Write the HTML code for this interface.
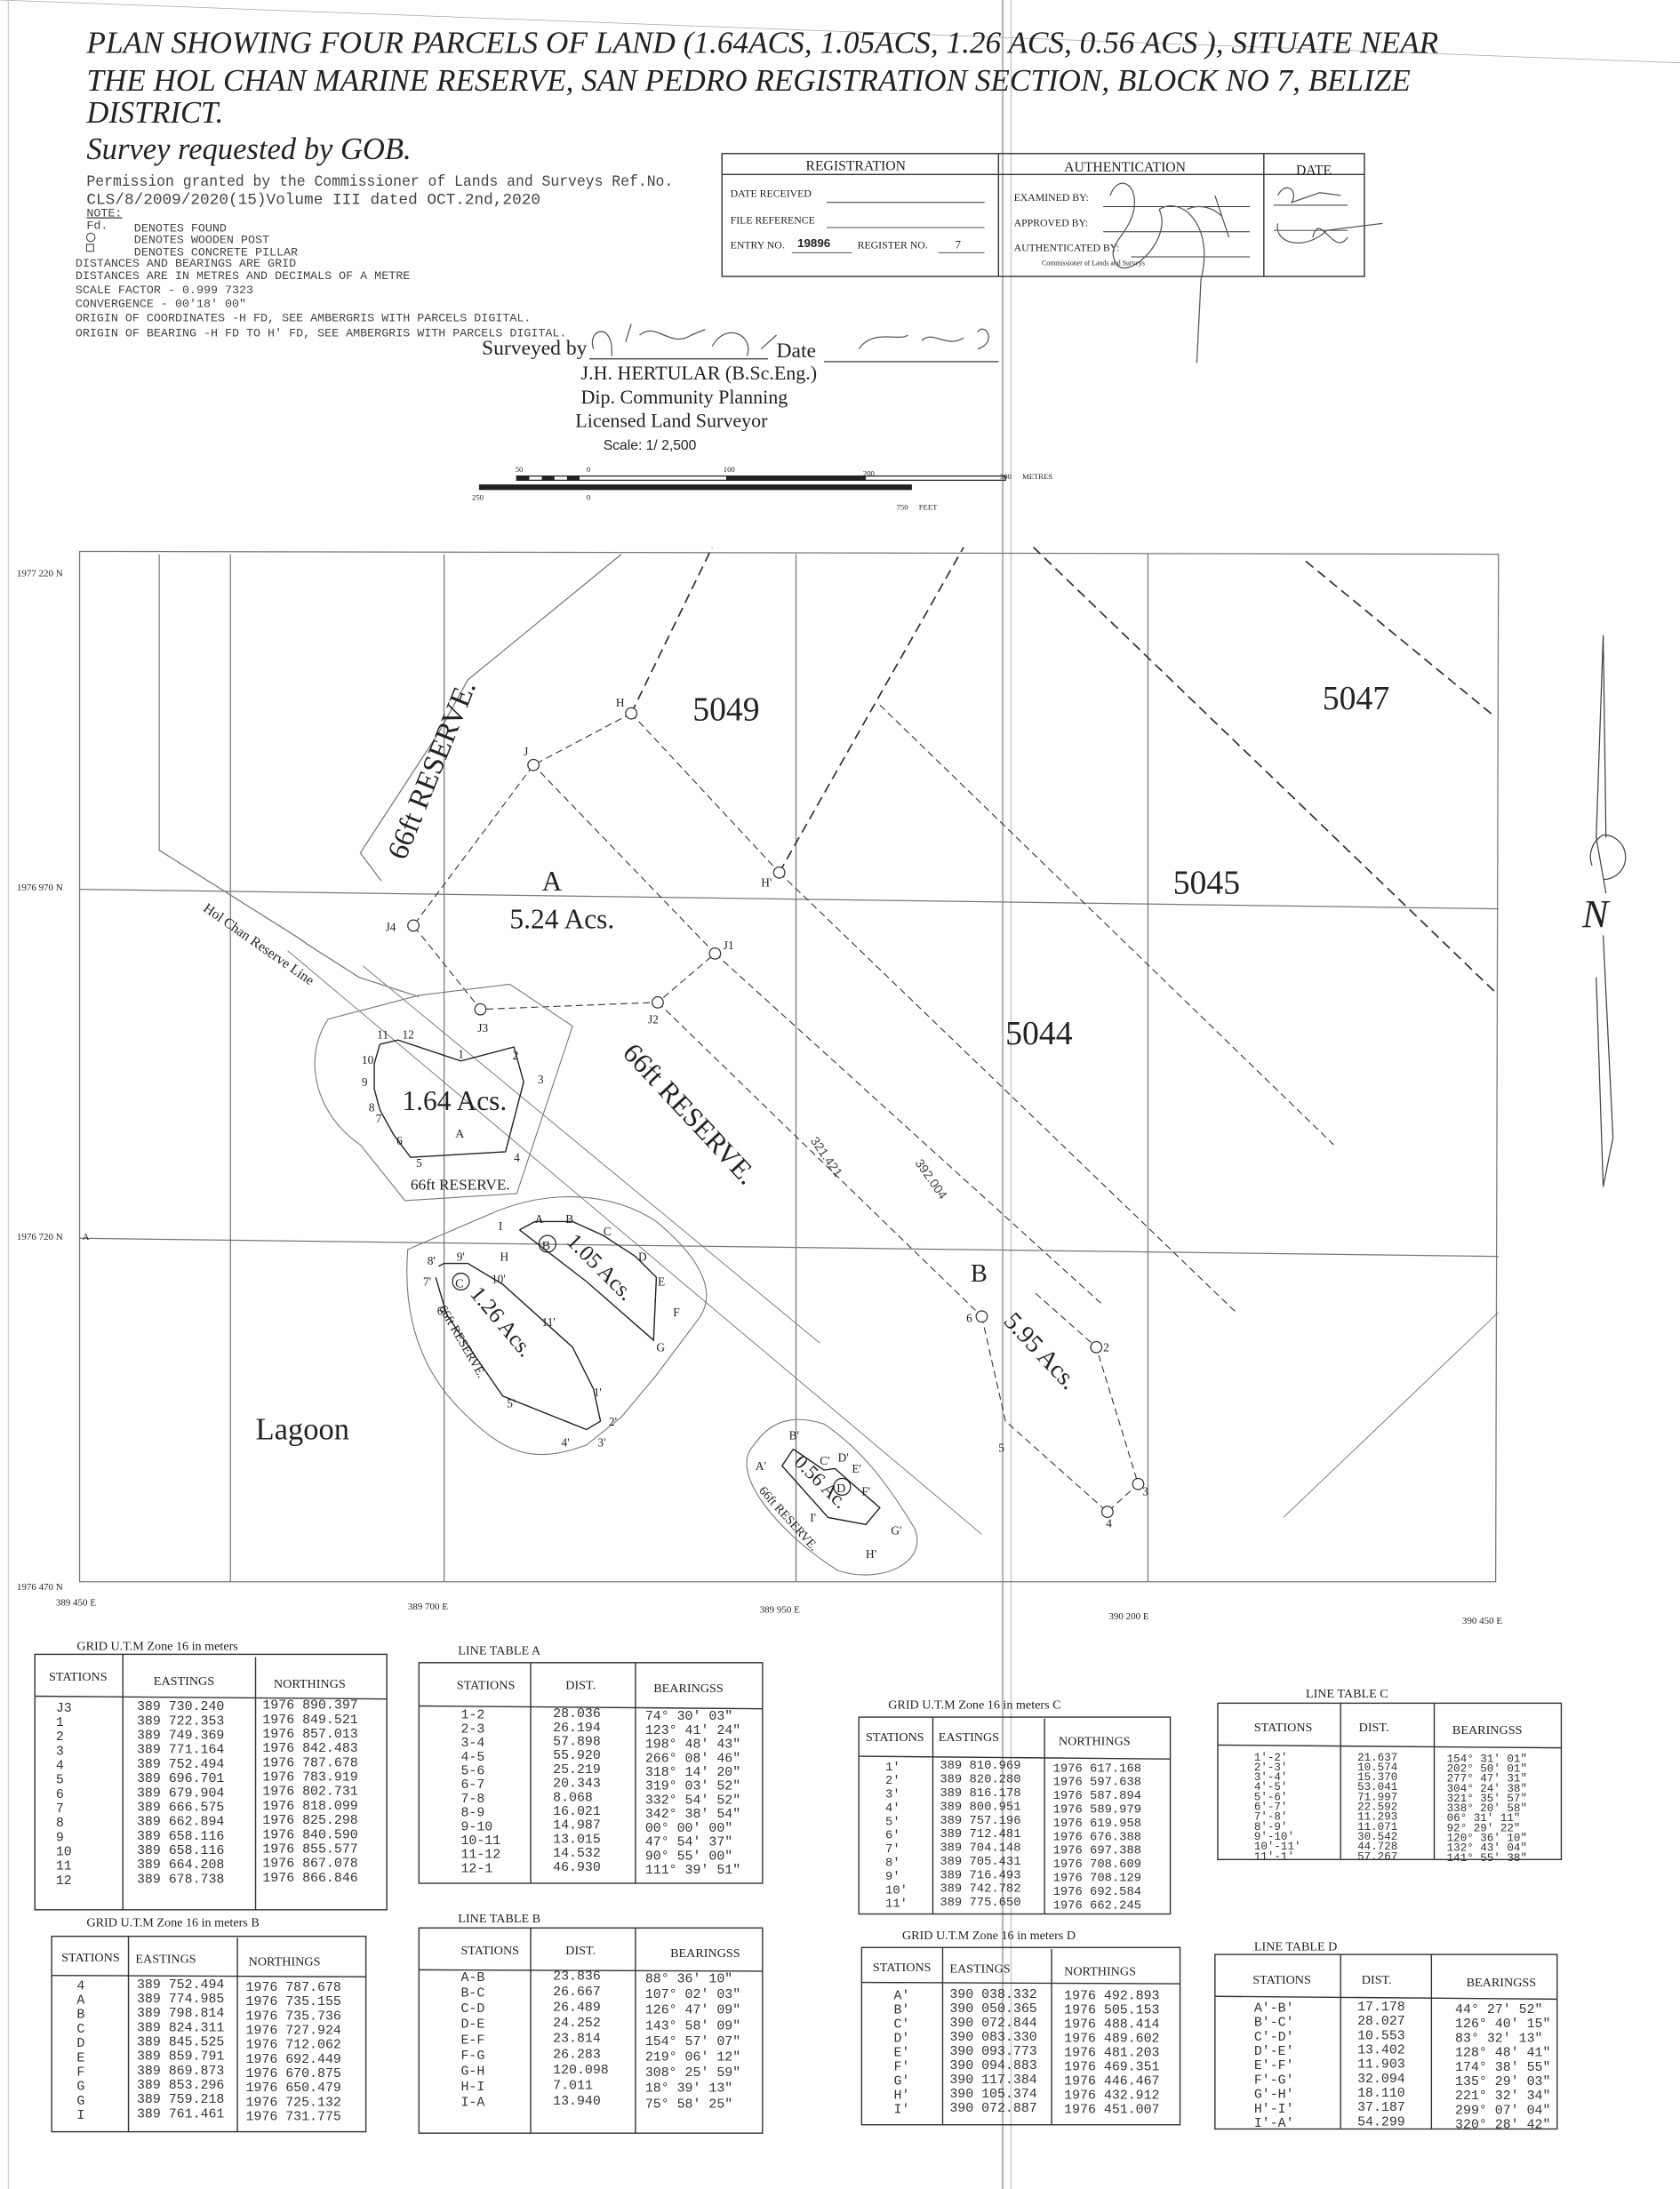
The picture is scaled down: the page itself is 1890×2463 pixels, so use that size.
<!DOCTYPE html>
<html><head><meta charset="utf-8"><style>
html,body{margin:0;padding:0;background:#fff}
svg{display:block}
.s{font-family:"Liberation Serif",serif}
.m{font-family:"Liberation Mono",monospace}
.n{font-family:"Liberation Sans",sans-serif}
</style></head><body>
<svg width="1890" height="2463" viewBox="0 0 1203 1568" preserveAspectRatio="none" xmlns="http://www.w3.org/2000/svg">
<rect width="1203" height="1568" fill="#fff"/>
<line x1="718" y1="0" x2="718" y2="1568" stroke="#bbb" stroke-width="1.5"/>
<line x1="724" y1="0" x2="724" y2="1568" stroke="#ccc" stroke-width="1"/>
<line x1="0" y1="0" x2="1203" y2="45" stroke="#aaa" stroke-width="0.5"/>
<line x1="6" y1="0" x2="6" y2="1568" stroke="#ccc" stroke-width="0.8"/>
<g class="s" font-style="italic" fill="#222" font-size="22">
<text x="62" y="38" textLength="968" lengthAdjust="spacingAndGlyphs">PLAN SHOWING FOUR PARCELS OF LAND (1.64ACS, 1.05ACS, 1.26 ACS, 0.56 ACS ), SITUATE NEAR</text>
<text x="62" y="65" textLength="948" lengthAdjust="spacingAndGlyphs">THE HOL CHAN MARINE RESERVE, SAN PEDRO REGISTRATION SECTION, BLOCK NO 7, BELIZE</text>
<text x="62" y="88">DISTRICT.</text>
<text x="62" y="114">Survey requested by GOB.</text>
</g>
<g class="m" fill="#444" font-size="11">
<text x="62" y="133" textLength="420" lengthAdjust="spacingAndGlyphs">Permission granted by the Commissioner of Lands and Surveys Ref.No.</text>
<text x="62" y="146" textLength="325" lengthAdjust="spacingAndGlyphs">CLS/8/2009/2020(15)Volume III  dated OCT.2nd,2020</text>
</g>
<g class="m" fill="#444" font-size="8.5">
<text x="62" y="155" text-decoration="underline">NOTE:</text>
<text x="62" y="164">Fd.</text><text x="96" y="166">DENOTES FOUND</text>
<circle cx="65" cy="170" r="3" fill="none" stroke="#444" stroke-width="0.7"/><text x="96" y="174">DENOTES WOODEN POST</text>
<rect x="62" y="175" width="5" height="5" fill="none" stroke="#444" stroke-width="0.7"/><text x="96" y="183">DENOTES CONCRETE PILLAR</text>
<text x="54" y="191">DISTANCES AND BEARINGS ARE GRID</text>
<text x="54" y="200">DISTANCES ARE IN METRES AND DECIMALS OF A METRE</text>
<text x="54" y="210">SCALE FACTOR - 0.999 7323</text>
<text x="54" y="220">CONVERGENCE - 00'18' 00"</text>
<text x="54" y="230">ORIGIN OF COORDINATES -H FD, SEE  AMBERGRIS WITH PARCELS DIGITAL.</text>
<text x="54" y="241">ORIGIN OF BEARING -H FD TO H' FD, SEE AMBERGRIS WITH PARCELS DIGITAL.</text>
</g>
<g stroke="#333" stroke-width="0.9" fill="none">
<rect x="517" y="110" width="460" height="88"/>
<line x1="517" y1="125" x2="977" y2="125"/>
<line x1="715" y1="110" x2="715" y2="198"/>
<line x1="905" y1="110" x2="905" y2="198"/>
<line x1="592" y1="145" x2="705" y2="145" stroke-width="0.6"/>
<line x1="592" y1="163" x2="705" y2="163" stroke-width="0.6"/>
<line x1="567" y1="181" x2="610" y2="181" stroke-width="0.6"/>
<line x1="672" y1="181" x2="705" y2="181" stroke-width="0.6"/>
<line x1="790" y1="148" x2="895" y2="148" stroke-width="0.6"/>
<line x1="790" y1="166" x2="895" y2="166" stroke-width="0.6"/>
<line x1="810" y1="184" x2="895" y2="184" stroke-width="0.6"/>
<line x1="912" y1="147" x2="965" y2="147" stroke-width="0.6"/>
<line x1="912" y1="165" x2="965" y2="165" stroke-width="0.6"/>
</g>
<g class="s" fill="#222">
<text x="577" y="122" font-size="10">REGISTRATION</text>
<text x="762" y="123" font-size="10">AUTHENTICATION</text>
<text x="928" y="125" font-size="10">DATE</text>
<text x="523" y="141" font-size="7.5">DATE RECEIVED</text>
<text x="523" y="160" font-size="7.5">FILE REFERENCE</text>
<text x="523" y="178" font-size="7.5">ENTRY NO.</text>
<text x="571" y="177" font-size="8.5" font-weight="bold" class="n">19896</text>
<text x="614" y="178" font-size="7.5">REGISTER NO.</text>
<text x="684" y="178" font-size="8">7</text>
<text x="726" y="144" font-size="7.5">EXAMINED BY:</text>
<text x="726" y="162" font-size="7.5">APPROVED BY:</text>
<text x="726" y="180" font-size="7.5">AUTHENTICATED BY:</text>
<text x="746" y="190" font-size="5">Commissioner of Lands and Surveys</text>
</g>
<g stroke="#555" stroke-width="0.8" fill="none">
<path d="M795 140 C800 125 815 130 812 150 C808 170 790 175 800 190 C810 200 840 170 830 150 M830 150 C845 140 870 160 860 200 L857 260 M870 140 L880 170 M850 150 C860 145 870 150 875 155"/>
<path d="M915 140 C920 130 930 135 925 145 L945 138 L960 140 M915 160 C912 175 935 180 950 165 L990 160 M940 170 C945 150 955 185 965 170"/>
<path d="M425 250 C420 235 440 230 438 255 M448 245 L452 232 M458 240 C470 230 480 250 495 240 L505 236 M510 248 C520 230 540 240 535 255 M545 250 L556 240"/>
<path d="M615 250 C625 235 645 245 650 240 M660 244 C668 236 678 250 690 242 M700 238 C705 230 715 245 700 250"/>
</g>
<g class="s" fill="#222">
<text x="345" y="254" font-size="15">Surveyed by</text>
<line x1="422" y1="257" x2="550" y2="257" stroke="#333" stroke-width="0.8"/>
<text x="556" y="256" font-size="15">Date</text>
<line x1="590" y1="259" x2="715" y2="259" stroke="#333" stroke-width="0.8"/>
<text x="416" y="272" font-size="14">J.H. HERTULAR (B.Sc.Eng.)</text>
<text x="416" y="289" font-size="14">Dip. Community Planning</text>
<text x="412" y="306" font-size="14">Licensed Land Surveyor</text>
<text x="432" y="322" font-size="10" class="n">Scale: 1/ 2,500</text>
</g>
<g>
<rect x="343" y="347" width="310" height="4" fill="#222"/>
<rect x="370" y="341" width="350" height="3" fill="none" stroke="#222" stroke-width="0.8"/>
<rect x="370" y="341" width="9" height="3" fill="#222"/><rect x="388" y="341" width="9" height="3" fill="#222"/><rect x="406" y="341" width="9" height="3" fill="#222"/>
<rect x="520" y="341" width="100" height="3" fill="#222"/>
<g class="s" font-size="5.5" fill="#222"><text x="369" y="338">50</text><text x="420" y="338">0</text><text x="518" y="338">100</text><text x="618" y="341">200</text><text x="716" y="343">300</text><text x="732" y="343">METRES</text><text x="338" y="358">250</text><text x="420" y="358">0</text><text x="642" y="365">750</text><text x="658" y="365">FEET</text></g>
</g>
<g stroke="#777" stroke-width="0.8" fill="none">
<path d="M57 395 L1073 397 L1071 1133 L57 1133 Z"/>
<line x1="165" y1="397" x2="165" y2="1133"/>
<line x1="318" y1="397" x2="318" y2="1133"/>
<line x1="570" y1="397" x2="570" y2="1133"/>
<line x1="822" y1="397" x2="822" y2="1133"/>
<line x1="57" y1="637" x2="1073" y2="651"/>
<line x1="57" y1="887" x2="1073" y2="900"/>
<path d="M445 397 L368 460 L335 487 L314 525 L258 611 L273 631"/>
<path d="M114 397 L114 609 L214 672 L221 677 L257 700 L300 714"/>
<line x1="206" y1="681" x2="703" y2="1099" stroke-width="0.6"/>
<line x1="260" y1="692" x2="587" y2="962" stroke-width="0.6"/>
<line x1="919" y1="1087" x2="1073" y2="940" stroke-width="0.6"/>
</g>
<g class="s" font-size="7" fill="#222">
<text x="12" y="413">1977 220 N</text><text x="12" y="638">1976 970 N</text><text x="12" y="888">1976 720 N</text><text x="59" y="888">A</text><text x="12" y="1139">1976 470 N</text>
<text x="40" y="1150">389 450 E</text><text x="292" y="1153">389 700 E</text><text x="544" y="1155">389 950 E</text><text x="794" y="1160">390 200 E</text><text x="1047" y="1163">390 450 E</text>
</g>
<g stroke="#333" fill="none">
<g stroke-width="1.1" stroke-dasharray="7,4">
<line x1="452" y1="511" x2="510" y2="392"/>
<line x1="558" y1="625" x2="690" y2="392"/>
<line x1="740" y1="392" x2="1070" y2="710"/>
<line x1="935" y1="402" x2="1070" y2="513"/>
</g>
<g stroke-width="0.7" stroke-dasharray="5,3">
<polyline points="452,511 382,548 296,663 344,723 471,718 512,683 382,548"/>
<line x1="452" y1="511" x2="558" y2="625"/>
<line x1="558" y1="625" x2="885" y2="940"/>
<line x1="512" y1="683" x2="790" y2="935"/>
<line x1="471" y1="718" x2="703" y2="943"/>
<line x1="630" y1="505" x2="955" y2="820"/>
<polyline points="703,943 720,1018 793,1083 815,1063 785,965 740,925"/>
</g>
</g>
<g fill="#fff" stroke="#333" stroke-width="0.8">
<circle cx="452" cy="511" r="4"/><circle cx="382" cy="548" r="4"/><circle cx="296" cy="663" r="4"/><circle cx="344" cy="723" r="4"/><circle cx="471" cy="718" r="4"/><circle cx="512" cy="683" r="4"/><circle cx="558" cy="625" r="4"/><circle cx="703" cy="943" r="4"/><circle cx="785" cy="965" r="4"/><circle cx="815" cy="1063" r="4"/><circle cx="793" cy="1083" r="4"/>
</g>
<g stroke="#777" stroke-width="0.7" fill="none">
<path d="M235 730 C215 760 228 800 258 820 L290 860 L370 855 L395 780 L410 735 L365 705 L300 713 Z"/>
<path d="M292 895 C290 920 290 970 330 1010 C360 1040 380 1050 420 1035 L445 1015 L470 985 L500 945 C515 925 500 900 470 875 C440 855 395 850 350 870 Z"/>
<path d="M540 1035 C520 1055 560 1100 600 1125 C630 1135 665 1120 655 1095 C640 1070 620 1040 590 1020 C565 1012 550 1020 540 1035 Z"/>
</g>
<g stroke="#222" stroke-width="0.9" fill="none">
<polyline points="272,748 285,745 330,760 368,750 375,775 362,825 294,829 282,813 272,795 268,780 268,762 272,748"/>
<polyline points="372,881 383,875 410,875 432,885 455,900 470,915 468,960 420,918 372,881"/>
<polyline points="314,907 318,905 335,905 360,920 410,965 425,995 430,1018 420,1024 360,1000 320,942 312,915"/>
<polyline points="568,1038 590,1053 598,1052 607,1060 630,1080 620,1092 593,1087 560,1050 568,1038"/>
</g>
<g class="s" fill="#222">
<text x="496" y="516" font-size="24">5049</text>
<text x="947" y="508" font-size="24">5047</text>
<text x="840" y="640" font-size="24">5045</text>
<text x="720" y="748" font-size="24">5044</text>
<text x="388" y="638" font-size="20">A</text>
<text x="365" y="665" font-size="20">5.24 Acs.</text>
<text x="695" y="918" font-size="18">B</text>
<text x="183" y="1031" font-size="22">Lagoon</text>
<text x="288" y="795" font-size="20">1.64 Acs.</text>
<text x="326" y="815" font-size="9">A</text>
<text x="294" y="852" font-size="11">66ft RESERVE.</text>
<text transform="translate(290 617) rotate(-68)" font-size="21">66ft RESERVE.</text>
<text transform="translate(445 755) rotate(47)" font-size="20">66ft RESERVE.</text>
<text transform="translate(145 652) rotate(35)" font-size="10">Hol Chan Reserve Line</text>
<text transform="translate(718 947) rotate(47)" font-size="18">5.95 Acs.</text>
<text transform="translate(405 890) rotate(45)" font-size="16">1.05 Acs.</text>
<text transform="translate(336 927) rotate(50)" font-size="16">1.26 Acs.</text>
<text transform="translate(568 1048) rotate(45)" font-size="14">0.56 Ac.</text>
<text transform="translate(314 937) rotate(60)" font-size="9">66ft RESERVE.</text>
<text transform="translate(543 1068) rotate(48)" font-size="9">66ft RESERVE.</text>
<text transform="translate(580 817) rotate(55)" font-size="9" class="n" fill="#444">321.421</text>
<text transform="translate(655 833) rotate(55)" font-size="9" class="n" fill="#444">392.004</text>
<text x="1133" y="664" font-size="28" font-style="italic">N</text>
<g font-size="8.5">
<text x="441" y="506">H</text><text x="375" y="541">J</text><text x="276" y="667">J4</text><text x="342" y="739">J3</text><text x="464" y="733">J2</text><text x="518" y="680">J1</text><text x="545" y="635">H'</text>
<text x="270" y="744">11</text><text x="288" y="744">12</text><text x="328" y="758">1</text><text x="367" y="759">2</text><text x="385" y="776">3</text><text x="368" y="832">4</text><text x="298" y="836">5</text><text x="284" y="820">6</text><text x="269" y="804">7</text><text x="264" y="796">8</text><text x="259" y="778">9</text><text x="259" y="762">10</text>
<text x="357" y="881">I</text><text x="383" y="876">A</text><text x="405" y="876">B</text><text x="432" y="885">C</text><text x="457" y="903">D</text><text x="471" y="921">E</text><text x="482" y="943">F</text><text x="470" y="968">G</text><text x="358" y="903">H</text>
<text x="306" y="906">8'</text><text x="327" y="903">9'</text><text x="352" y="919">10'</text><text x="388" y="950">11'</text><text x="303" y="921">7'</text><text x="313" y="942">6'</text><text x="363" y="1008">5'</text><text x="402" y="1036">4'</text><text x="428" y="1036">3'</text><text x="436" y="1021">2'</text><text x="425" y="1000">1'</text>
<text x="565" y="1031">B'</text><text x="541" y="1053">A'</text><text x="587" y="1049">C'</text><text x="600" y="1047">D'</text><text x="610" y="1055">E'</text><text x="617" y="1071">F'</text><text x="638" y="1099">G'</text><text x="620" y="1116">H'</text><text x="580" y="1090">I'</text>
<text x="692" y="947">6</text><text x="790" y="968">2</text><text x="818" y="1071">3</text><text x="792" y="1094">4</text><text x="715" y="1040">5</text>
</g>
</g>
<g fill="none" stroke="#222" stroke-width="0.8"><circle cx="392" cy="891" r="6"/><circle cx="330" cy="918" r="6"/><circle cx="603" cy="1065" r="6"/></g>
<g class="s" font-size="9" fill="#222"><text x="388" y="895">B</text><text x="326" y="922">C</text><text x="599" y="1069">D</text></g>
<g stroke="#444" stroke-width="0.8" fill="none">
<path d="M1148 455 L1143 600 L1150 640 M1148 455 L1150 600"/>
<path d="M1148 670 L1155 815 L1148 850 L1143 700"/>
<path d="M1148 598 A15 15 0 0 1 1148 630"/><path d="M1148 598 A18 18 0 0 0 1140 620"/>
</g>
<g stroke="#333" stroke-width="0.9" fill="none">
<rect x="25" y="1185" width="252" height="183"/><line x1="25" y1="1215" x2="277" y2="1217"/><line x1="88" y1="1185" x2="88" y2="1368"/><line x1="183" y1="1187" x2="183" y2="1368"/>
<rect x="300" y="1191" width="246" height="158"/><line x1="300" y1="1222" x2="546" y2="1224"/><line x1="380" y1="1191" x2="380" y2="1349"/><line x1="455" y1="1191" x2="455" y2="1349"/>
<rect x="37" y="1387" width="225" height="140"/><line x1="37" y1="1415" x2="262" y2="1416"/><line x1="92" y1="1387" x2="92" y2="1527"/><line x1="170" y1="1388" x2="170" y2="1527"/>
<rect x="300" y="1381" width="246" height="147"/><line x1="300" y1="1411" x2="546" y2="1412"/><line x1="380" y1="1381" x2="380" y2="1528"/><line x1="455" y1="1381" x2="455" y2="1528"/>
<rect x="615" y="1230" width="223" height="141"/><line x1="615" y1="1258" x2="838" y2="1260"/><line x1="668" y1="1230" x2="668" y2="1371"/><line x1="748" y1="1231" x2="748" y2="1371"/>
<rect x="872" y="1220" width="246" height="112"/><line x1="872" y1="1250" x2="1118" y2="1252"/><line x1="960" y1="1220" x2="960" y2="1332"/><line x1="1027" y1="1220" x2="1027" y2="1332"/>
<rect x="617" y="1395" width="228" height="127"/><line x1="617" y1="1420" x2="845" y2="1421"/><line x1="675" y1="1395" x2="675" y2="1522"/><line x1="753" y1="1396" x2="753" y2="1522"/>
<rect x="870" y="1400" width="245" height="125"/><line x1="870" y1="1430" x2="1115" y2="1432"/><line x1="960" y1="1400" x2="960" y2="1525"/><line x1="1025" y1="1400" x2="1025" y2="1525"/>
</g>
<g class="s" fill="#222" font-size="9">
<text x="55" y="1182">GRID U.T.M Zone 16  in  meters</text>
<text x="328" y="1185">LINE TABLE  A</text>
<text x="62" y="1380">GRID U.T.M Zone 16  in  meters  B</text>
<text x="328" y="1377">LINE TABLE  B</text>
<text x="636" y="1224">GRID U.T.M Zone 16  in  meters  C</text>
<text x="935" y="1216">LINE TABLE  C</text>
<text x="646" y="1389">GRID U.T.M Zone 16  in  meters  D</text>
<text x="898" y="1397">LINE TABLE  D</text>
<text x="35" y="1204">STATIONS</text><text x="110" y="1207">EASTINGS</text><text x="196" y="1209">NORTHINGS</text>
<text x="327" y="1210">STATIONS</text><text x="405" y="1210">DIST.</text><text x="468" y="1212">BEARINGSS</text>
<text x="44" y="1405">STATIONS</text><text x="97" y="1406">EASTINGS</text><text x="178" y="1408">NORTHINGS</text>
<text x="330" y="1400">STATIONS</text><text x="405" y="1400">DIST.</text><text x="480" y="1402">BEARINGSS</text>
<text x="620" y="1247">STATIONS</text><text x="672" y="1247">EASTINGS</text><text x="758" y="1250">NORTHINGS</text>
<text x="898" y="1240">STATIONS</text><text x="973" y="1240">DIST.</text><text x="1040" y="1242">BEARINGSS</text>
<text x="625" y="1412">STATIONS</text><text x="680" y="1413">EASTINGS</text><text x="762" y="1415">NORTHINGS</text>
<text x="897" y="1421">STATIONS</text><text x="975" y="1421">DIST.</text><text x="1050" y="1423">BEARINGSS</text>
</g>
<g class="m" fill="#333" font-size="9.5">
<text x="40" y="1226"><tspan x="40" dy="0">J3</tspan><tspan x="40" dy="10.3">1</tspan><tspan x="40" dy="10.3">2</tspan><tspan x="40" dy="10.3">3</tspan><tspan x="40" dy="10.3">4</tspan><tspan x="40" dy="10.3">5</tspan><tspan x="40" dy="10.3">6</tspan><tspan x="40" dy="10.3">7</tspan><tspan x="40" dy="10.3">8</tspan><tspan x="40" dy="10.3">9</tspan><tspan x="40" dy="10.3">10</tspan><tspan x="40" dy="10.3">11</tspan><tspan x="40" dy="10.3">12</tspan></text>
<text x="98" y="1225"><tspan x="98" dy="0">389 730.240</tspan><tspan x="98" dy="10.3">389 722.353</tspan><tspan x="98" dy="10.3">389 749.369</tspan><tspan x="98" dy="10.3">389 771.164</tspan><tspan x="98" dy="10.3">389 752.494</tspan><tspan x="98" dy="10.3">389 696.701</tspan><tspan x="98" dy="10.3">389 679.904</tspan><tspan x="98" dy="10.3">389 666.575</tspan><tspan x="98" dy="10.3">389 662.894</tspan><tspan x="98" dy="10.3">389 658.116</tspan><tspan x="98" dy="10.3">389 658.116</tspan><tspan x="98" dy="10.3">389 664.208</tspan><tspan x="98" dy="10.3">389 678.738</tspan></text>
<text x="188" y="1224"><tspan x="188" dy="0">1976 890.397</tspan><tspan x="188" dy="10.3">1976 849.521</tspan><tspan x="188" dy="10.3">1976 857.013</tspan><tspan x="188" dy="10.3">1976 842.483</tspan><tspan x="188" dy="10.3">1976 787.678</tspan><tspan x="188" dy="10.3">1976 783.919</tspan><tspan x="188" dy="10.3">1976 802.731</tspan><tspan x="188" dy="10.3">1976 818.099</tspan><tspan x="188" dy="10.3">1976 825.298</tspan><tspan x="188" dy="10.3">1976 840.590</tspan><tspan x="188" dy="10.3">1976 855.577</tspan><tspan x="188" dy="10.3">1976 867.078</tspan><tspan x="188" dy="10.3">1976 866.846</tspan></text>
<text x="330" y="1231"><tspan x="330" dy="0">1-2</tspan><tspan x="330" dy="10">2-3</tspan><tspan x="330" dy="10">3-4</tspan><tspan x="330" dy="10">4-5</tspan><tspan x="330" dy="10">5-6</tspan><tspan x="330" dy="10">6-7</tspan><tspan x="330" dy="10">7-8</tspan><tspan x="330" dy="10">8-9</tspan><tspan x="330" dy="10">9-10</tspan><tspan x="330" dy="10">10-11</tspan><tspan x="330" dy="10">11-12</tspan><tspan x="330" dy="10">12-1</tspan></text>
<text x="396" y="1230"><tspan x="396" dy="0">28.036</tspan><tspan x="396" dy="10">26.194</tspan><tspan x="396" dy="10">57.898</tspan><tspan x="396" dy="10">55.920</tspan><tspan x="396" dy="10">25.219</tspan><tspan x="396" dy="10">20.343</tspan><tspan x="396" dy="10">8.068</tspan><tspan x="396" dy="10">16.021</tspan><tspan x="396" dy="10">14.987</tspan><tspan x="396" dy="10">13.015</tspan><tspan x="396" dy="10">14.532</tspan><tspan x="396" dy="10">46.930</tspan></text>
<text x="462" y="1232"><tspan x="462" dy="0">74° 30′ 03″</tspan><tspan x="462" dy="10">123° 41′ 24″</tspan><tspan x="462" dy="10">198° 48′ 43″</tspan><tspan x="462" dy="10">266° 08′ 46″</tspan><tspan x="462" dy="10">318° 14′ 20″</tspan><tspan x="462" dy="10">319° 03′ 52″</tspan><tspan x="462" dy="10">332° 54′ 52″</tspan><tspan x="462" dy="10">342° 38′ 54″</tspan><tspan x="462" dy="10">00° 00′ 00″</tspan><tspan x="462" dy="10">47° 54′ 37″</tspan><tspan x="462" dy="10">90° 55′ 00″</tspan><tspan x="462" dy="10">111° 39′ 51″</tspan></text>
<text x="55" y="1425"><tspan x="55" dy="0">4</tspan><tspan x="55" dy="10.3">A</tspan><tspan x="55" dy="10.3">B</tspan><tspan x="55" dy="10.3">C</tspan><tspan x="55" dy="10.3">D</tspan><tspan x="55" dy="10.3">E</tspan><tspan x="55" dy="10.3">F</tspan><tspan x="55" dy="10.3">G</tspan><tspan x="55" dy="10.3">G</tspan><tspan x="55" dy="10.3">I</tspan></text>
<text x="98" y="1424"><tspan x="98" dy="0">389 752.494</tspan><tspan x="98" dy="10.3">389 774.985</tspan><tspan x="98" dy="10.3">389 798.814</tspan><tspan x="98" dy="10.3">389 824.311</tspan><tspan x="98" dy="10.3">389 845.525</tspan><tspan x="98" dy="10.3">389 859.791</tspan><tspan x="98" dy="10.3">389 869.873</tspan><tspan x="98" dy="10.3">389 853.296</tspan><tspan x="98" dy="10.3">389 759.218</tspan><tspan x="98" dy="10.3">389 761.461</tspan></text>
<text x="176" y="1426"><tspan x="176" dy="0">1976 787.678</tspan><tspan x="176" dy="10.3">1976 735.155</tspan><tspan x="176" dy="10.3">1976 735.736</tspan><tspan x="176" dy="10.3">1976 727.924</tspan><tspan x="176" dy="10.3">1976 712.062</tspan><tspan x="176" dy="10.3">1976 692.449</tspan><tspan x="176" dy="10.3">1976 670.875</tspan><tspan x="176" dy="10.3">1976 650.479</tspan><tspan x="176" dy="10.3">1976 725.132</tspan><tspan x="176" dy="10.3">1976 731.775</tspan></text>
<text x="330" y="1419"><tspan x="330" dy="0">A-B</tspan><tspan x="330" dy="11.2">B-C</tspan><tspan x="330" dy="11.2">C-D</tspan><tspan x="330" dy="11.2">D-E</tspan><tspan x="330" dy="11.2">E-F</tspan><tspan x="330" dy="11.2">F-G</tspan><tspan x="330" dy="11.2">G-H</tspan><tspan x="330" dy="11.2">H-I</tspan><tspan x="330" dy="11.2">I-A</tspan></text>
<text x="396" y="1418"><tspan x="396" dy="0">23.836</tspan><tspan x="396" dy="11.2">26.667</tspan><tspan x="396" dy="11.2">26.489</tspan><tspan x="396" dy="11.2">24.252</tspan><tspan x="396" dy="11.2">23.814</tspan><tspan x="396" dy="11.2">26.283</tspan><tspan x="396" dy="11.2">120.098</tspan><tspan x="396" dy="11.2">7.011</tspan><tspan x="396" dy="11.2">13.940</tspan></text>
<text x="462" y="1420"><tspan x="462" dy="0">88° 36′ 10″</tspan><tspan x="462" dy="11.2">107° 02′ 03″</tspan><tspan x="462" dy="11.2">126° 47′ 09″</tspan><tspan x="462" dy="11.2">143° 58′ 09″</tspan><tspan x="462" dy="11.2">154° 57′ 07″</tspan><tspan x="462" dy="11.2">219° 06′ 12″</tspan><tspan x="462" dy="11.2">308° 25′ 59″</tspan><tspan x="462" dy="11.2">18° 39′ 13″</tspan><tspan x="462" dy="11.2">75° 58′ 25″</tspan></text>
</g>
<g class="m" fill="#333" font-size="8.8">
<text x="634" y="1268"><tspan x="634" dy="0">1'</tspan><tspan x="634" dy="9.8">2'</tspan><tspan x="634" dy="9.8">3'</tspan><tspan x="634" dy="9.8">4'</tspan><tspan x="634" dy="9.8">5'</tspan><tspan x="634" dy="9.8">6'</tspan><tspan x="634" dy="9.8">7'</tspan><tspan x="634" dy="9.8">8'</tspan><tspan x="634" dy="9.8">9'</tspan><tspan x="634" dy="9.8">10'</tspan><tspan x="634" dy="9.8">11'</tspan></text>
<text x="673" y="1267"><tspan x="673" dy="0">389 810.969</tspan><tspan x="673" dy="9.8">389 820.280</tspan><tspan x="673" dy="9.8">389 816.178</tspan><tspan x="673" dy="9.8">389 800.951</tspan><tspan x="673" dy="9.8">389 757.196</tspan><tspan x="673" dy="9.8">389 712.481</tspan><tspan x="673" dy="9.8">389 704.148</tspan><tspan x="673" dy="9.8">389 705.431</tspan><tspan x="673" dy="9.8">389 716.493</tspan><tspan x="673" dy="9.8">389 742.782</tspan><tspan x="673" dy="9.8">389 775.650</tspan></text>
<text x="754" y="1269"><tspan x="754" dy="0">1976 617.168</tspan><tspan x="754" dy="9.8">1976 597.638</tspan><tspan x="754" dy="9.8">1976 587.894</tspan><tspan x="754" dy="9.8">1976 589.979</tspan><tspan x="754" dy="9.8">1976 619.958</tspan><tspan x="754" dy="9.8">1976 676.388</tspan><tspan x="754" dy="9.8">1976 697.388</tspan><tspan x="754" dy="9.8">1976 708.609</tspan><tspan x="754" dy="9.8">1976 708.129</tspan><tspan x="754" dy="9.8">1976 692.584</tspan><tspan x="754" dy="9.8">1976 662.245</tspan></text>
</g>
<g class="m" fill="#333" font-size="8">
<text x="898" y="1261"><tspan x="898" dy="0">1'-2'</tspan><tspan x="898" dy="7.1">2'-3'</tspan><tspan x="898" dy="7.1">3'-4'</tspan><tspan x="898" dy="7.1">4'-5'</tspan><tspan x="898" dy="7.1">5'-6'</tspan><tspan x="898" dy="7.1">6'-7'</tspan><tspan x="898" dy="7.1">7'-8'</tspan><tspan x="898" dy="7.1">8'-9'</tspan><tspan x="898" dy="7.1">9'-10'</tspan><tspan x="898" dy="7.1">10'-11'</tspan><tspan x="898" dy="7.1">11'-1'</tspan></text>
<text x="972" y="1261"><tspan x="972" dy="0">21.637</tspan><tspan x="972" dy="7.1">10.574</tspan><tspan x="972" dy="7.1">15.370</tspan><tspan x="972" dy="7.1">53.041</tspan><tspan x="972" dy="7.1">71.997</tspan><tspan x="972" dy="7.1">22.592</tspan><tspan x="972" dy="7.1">11.293</tspan><tspan x="972" dy="7.1">11.071</tspan><tspan x="972" dy="7.1">30.542</tspan><tspan x="972" dy="7.1">44.728</tspan><tspan x="972" dy="7.1">57.267</tspan></text>
<text x="1036" y="1262"><tspan x="1036" dy="0">154° 31′ 01″</tspan><tspan x="1036" dy="7.1">202° 50′ 01″</tspan><tspan x="1036" dy="7.1">277° 47′ 31″</tspan><tspan x="1036" dy="7.1">304° 24′ 38″</tspan><tspan x="1036" dy="7.1">321° 35′ 57″</tspan><tspan x="1036" dy="7.1">338° 20′ 58″</tspan><tspan x="1036" dy="7.1">06° 31′ 11″</tspan><tspan x="1036" dy="7.1">92° 29′ 22″</tspan><tspan x="1036" dy="7.1">120° 36′ 10″</tspan><tspan x="1036" dy="7.1">132° 43′ 04″</tspan><tspan x="1036" dy="7.1">141° 55′ 38″</tspan></text>
</g>
<g class="m" fill="#333" font-size="9.5">
<text x="640" y="1432"><tspan x="640" dy="0">A'</tspan><tspan x="640" dy="10.2">B'</tspan><tspan x="640" dy="10.2">C'</tspan><tspan x="640" dy="10.2">D'</tspan><tspan x="640" dy="10.2">E'</tspan><tspan x="640" dy="10.2">F'</tspan><tspan x="640" dy="10.2">G'</tspan><tspan x="640" dy="10.2">H'</tspan><tspan x="640" dy="10.2">I'</tspan></text>
<text x="680" y="1431"><tspan x="680" dy="0">390 038.332</tspan><tspan x="680" dy="10.2">390 050.365</tspan><tspan x="680" dy="10.2">390 072.844</tspan><tspan x="680" dy="10.2">390 083.330</tspan><tspan x="680" dy="10.2">390 093.773</tspan><tspan x="680" dy="10.2">390 094.883</tspan><tspan x="680" dy="10.2">390 117.384</tspan><tspan x="680" dy="10.2">390 105.374</tspan><tspan x="680" dy="10.2">390 072.887</tspan></text>
<text x="762" y="1432"><tspan x="762" dy="0">1976 492.893</tspan><tspan x="762" dy="10.2">1976 505.153</tspan><tspan x="762" dy="10.2">1976 488.414</tspan><tspan x="762" dy="10.2">1976 489.602</tspan><tspan x="762" dy="10.2">1976 481.203</tspan><tspan x="762" dy="10.2">1976 469.351</tspan><tspan x="762" dy="10.2">1976 446.467</tspan><tspan x="762" dy="10.2">1976 432.912</tspan><tspan x="762" dy="10.2">1976 451.007</tspan></text>
<text x="898" y="1441"><tspan x="898" dy="0">A'-B'</tspan><tspan x="898" dy="10.3">B'-C'</tspan><tspan x="898" dy="10.3">C'-D'</tspan><tspan x="898" dy="10.3">D'-E'</tspan><tspan x="898" dy="10.3">E'-F'</tspan><tspan x="898" dy="10.3">F'-G'</tspan><tspan x="898" dy="10.3">G'-H'</tspan><tspan x="898" dy="10.3">H'-I'</tspan><tspan x="898" dy="10.3">I'-A'</tspan></text>
<text x="972" y="1440"><tspan x="972" dy="0">17.178</tspan><tspan x="972" dy="10.3">28.027</tspan><tspan x="972" dy="10.3">10.553</tspan><tspan x="972" dy="10.3">13.402</tspan><tspan x="972" dy="10.3">11.903</tspan><tspan x="972" dy="10.3">32.094</tspan><tspan x="972" dy="10.3">18.110</tspan><tspan x="972" dy="10.3">37.187</tspan><tspan x="972" dy="10.3">54.299</tspan></text>
<text x="1042" y="1442"><tspan x="1042" dy="0">44° 27′ 52″</tspan><tspan x="1042" dy="10.3">126° 40′ 15″</tspan><tspan x="1042" dy="10.3">83° 32′ 13″</tspan><tspan x="1042" dy="10.3">128° 48′ 41″</tspan><tspan x="1042" dy="10.3">174° 38′ 55″</tspan><tspan x="1042" dy="10.3">135° 29′ 03″</tspan><tspan x="1042" dy="10.3">221° 32′ 34″</tspan><tspan x="1042" dy="10.3">299° 07′ 04″</tspan><tspan x="1042" dy="10.3">320° 28′ 42″</tspan></text>
</g>
</svg>
</body></html>
